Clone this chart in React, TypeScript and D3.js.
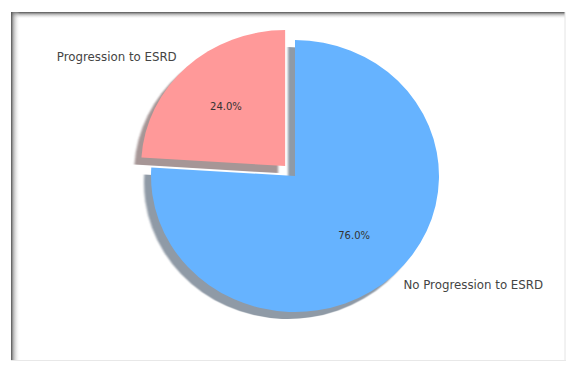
import React from "react";
import * as d3 from "d3";

const labels = ["Progression to ESRD", "No Progression to ESRD"];
const values = [24, 76];
const colors = ["#ff9999", "#66b3ff"];
const shadowColors = ["#a69696", "#8f9aa6"];
const explode = [0.1, 0];

const W = 566;
const H = 365;

export default function App() {
  const cx = 295;
  const cy = 176;
  const rx = 144;
  const ry = 136;
  const sy = ry / rx;
  const shadowDx = -7;
  const shadowDy = 7;

  const pie = d3
    .pie<number>()
    .sort(null)
    .startAngle(0)
    .endAngle(-2 * Math.PI)
    .value((d) => d);
  const arcs = pie(values);
  const arc = d3.arc<d3.PieArcDatum<number>>().innerRadius(0).outerRadius(rx);
  const total = d3.sum(values);

  const items = arcs.map((a, i) => {
    const mid = (a.startAngle + a.endAngle) / 2;
    const ux = Math.sin(mid);
    const uy = -Math.cos(mid);
    const ox = cx + explode[i] * rx * ux;
    const oy = cy + explode[i] * ry * uy;
    return { a, i, ux, uy, ox, oy };
  });

  return (
    <svg
      width={W}
      height={H}
      style={{ position: "absolute", left: 0, top: 0, background: "#fff" }}
      fontFamily="DejaVu Sans, sans-serif"
    >
      <defs>
        <linearGradient id="gTop" x1="0" y1="0" x2="0" y2="1">
          <stop offset="0" stopColor="#505050" stopOpacity="1" />
          <stop offset="0.35" stopColor="#909090" stopOpacity="0.6" />
          <stop offset="1" stopColor="#ffffff" stopOpacity="0" />
        </linearGradient>
        <linearGradient id="gLeft" x1="0" y1="0" x2="1" y2="0">
          <stop offset="0" stopColor="#505050" stopOpacity="1" />
          <stop offset="0.3" stopColor="#909090" stopOpacity="0.6" />
          <stop offset="1" stopColor="#ffffff" stopOpacity="0" />
        </linearGradient>
        <filter id="soft" x="-10%" y="-10%" width="120%" height="120%">
          <feGaussianBlur stdDeviation="0.8" />
        </filter>
      </defs>
      <rect x={0} y={0} width={W} height={H} fill="#fff" />
      {/* frame */}
      <rect x={11} y={12} width={554} height={348} fill="#fff" />
      <rect x={11} y={12} width={554} height={7} fill="url(#gTop)" />
      <rect x={11} y={12} width={9} height={348} fill="url(#gLeft)" />
      <line x1={565} y1={12} x2={565} y2={360} stroke="#e4e4e4" strokeWidth={1} />
      <line x1={11} y1={360.5} x2={566} y2={360.5} stroke="#e8e8e8" strokeWidth={1} />

      {/* shadows */}
      {items.map(({ a, i, ox, oy }) => (
        <g
          key={"s" + i}
          transform={`translate(${ox + shadowDx},${oy + shadowDy}) scale(1,${sy})`}
          filter="url(#soft)"
        >
          <path d={arc(a) || ""} fill={shadowColors[i]} />
        </g>
      ))}
      {/* wedges */}
      {items.map(({ a, i, ox, oy }) => (
        <g key={"w" + i} transform={`translate(${ox},${oy}) scale(1,${sy})`}>
          <path d={arc(a) || ""} fill={colors[i]} />
        </g>
      ))}
      {/* labels */}
      {items.map(({ i, ux, uy, ox, oy }) => (
        <text
          key={"l" + i}
          x={ox + 1.1 * rx * ux}
          y={oy + 1.1 * ry * uy}
          textAnchor={ux < 0 ? "end" : "start"}
          dominantBaseline="central"
          fontSize={11.8}
          fill="#444"
        >
          {labels[i]}
        </text>
      ))}
      {items.map(({ i, ux, uy, ox, oy }) => (
        <text
          key={"p" + i}
          x={ox + 0.6 * rx * ux}
          y={oy + 0.6 * ry * uy}
          textAnchor="middle"
          dominantBaseline="central"
          fontSize={10}
          fill="#333"
        >
          {d3.format(".1f")((values[i] / total) * 100) + "%"}
        </text>
      ))}
    </svg>
  );
}
